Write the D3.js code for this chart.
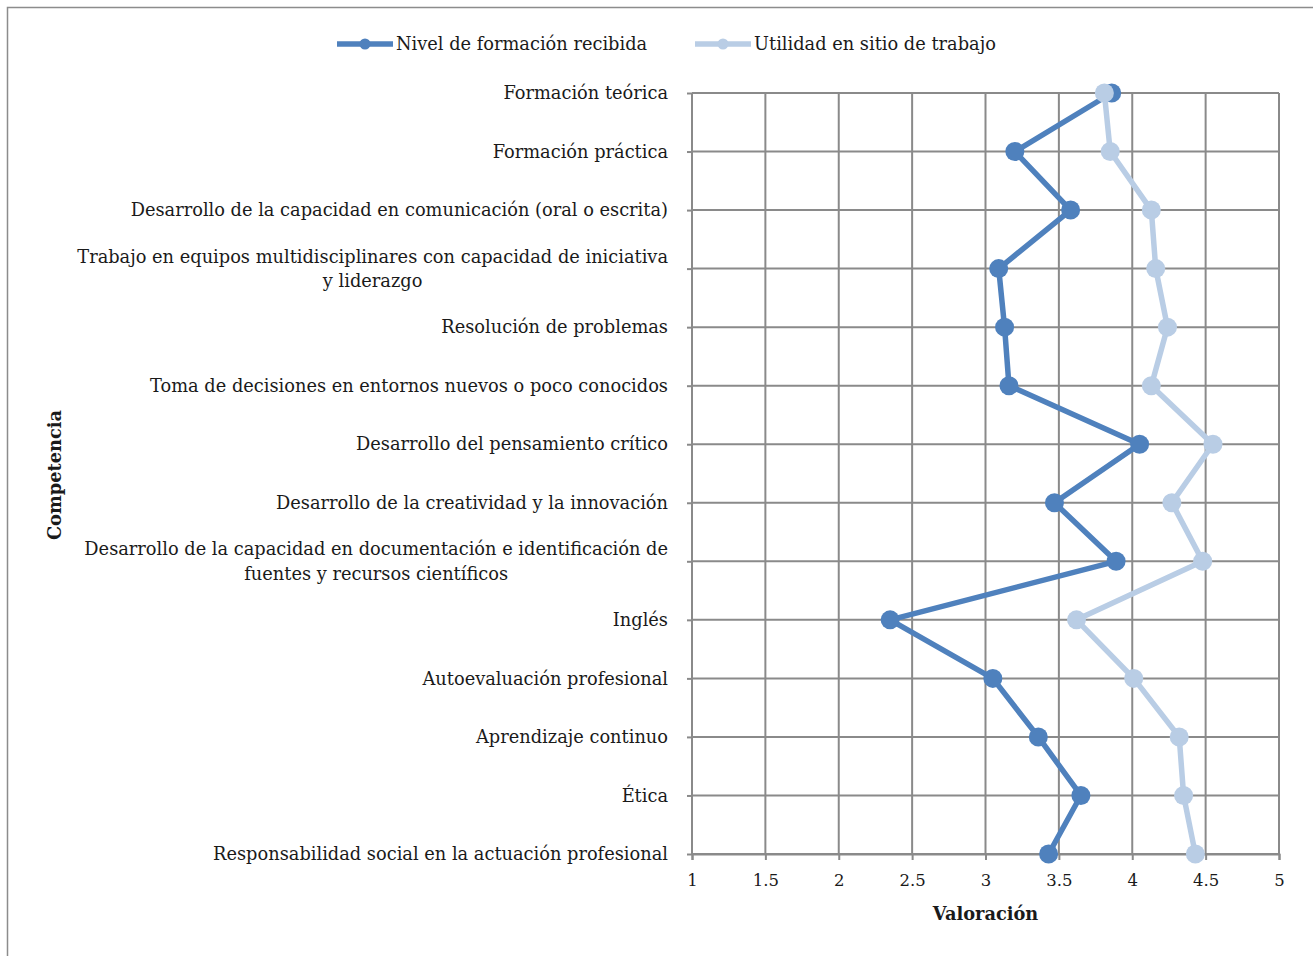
<!DOCTYPE html>
<html>
<head>
<meta charset="utf-8">
<script src="https://cdn.jsdelivr.net/npm/d3@7"></script>
<style>
    body { margin: 0; background: #fff; }
    text { font-family: "DejaVu Serif", "Liberation Serif", serif; fill: #1a1a1a; }
</style>
</head>
<body>
<script>
    // Data
    let competencias = [
        "Formación teórica",
        "Formación práctica",
        "Desarrollo de la capacidad en comunicación (oral o escrita)",
        "Trabajo en equipos multidisciplinares con capacidad de iniciativa\ny liderazgo",
        "Resolución de problemas",
        "Toma de decisiones en  entornos nuevos o poco conocidos",
        "Desarrollo del pensamiento crítico",
        "Desarrollo de la creatividad y la innovación",
        "Desarrollo de la capacidad en documentación e identificación de\nfuentes y recursos científicos",
        "Inglés",
        "Autoevaluación profesional",
        "Aprendizaje continuo",
        "Ética",
        "Responsabilidad social en la actuación profesional"
    ];
    let nivelFormacion = [3.86, 3.20, 3.58, 3.09, 3.13, 3.16, 4.05, 3.47, 3.89, 2.35, 3.05, 3.36, 3.65, 3.43];
    let utilidadTrabajo = [3.81, 3.85, 4.13, 4.16, 4.24, 4.13, 4.55, 4.27, 4.48, 3.62, 4.01, 4.32, 4.35, 4.43];
    let xTicks = [1, 1.5, 2, 2.5, 3, 3.5, 4, 4.5, 5];
    let seriesNames = ["Nivel de formación recibida", "Utilidad en sitio de trabajo"];
    let colors = ["#4f81bd", "#b9cde5"];

    let width = 1313, height = 956;
    let fs = 17.8;
    let svg = d3.select("body").append("svg")
        .attr("width", width)
        .attr("height", height);

    // outer frame
    svg.append("rect")
        .attr("x", 7.5).attr("y", 7.5)
        .attr("width", width + 10).attr("height", height + 10)
        .attr("fill", "none")
        .attr("stroke", "#8c8c8c")
        .attr("stroke-width", 1.5);

    let x = d3.scaleLinear().domain([1, 5]).range([692, 1279]);
    let y = d3.scalePoint().domain(competencias).range([93, 854]);

    // grid
    let grid = svg.append("g");
    grid.selectAll("line.v")
        .data(xTicks)
        .enter().append("line")
        .attr("x1", d => x(d)).attr("x2", d => x(d))
        .attr("y1", y.range()[0]).attr("y2", y.range()[1])
        .attr("stroke", "#8a8a8a").attr("stroke-width", 2);
    grid.selectAll("line.h")
        .data(competencias)
        .enter().append("line")
        .attr("x1", x(1)).attr("x2", x(5))
        .attr("y1", d => y(d)).attr("y2", d => y(d))
        .attr("stroke", "#8a8a8a").attr("stroke-width", 2);

    // x axis
    let xAxis = svg.append("g")
        .attr("transform", `translate(0, ${y.range()[1]})`)
        .call(d3.axisBottom(x).tickValues(xTicks).tickFormat(d3.format("")).tickSize(6).tickPadding(14));
    xAxis.select(".domain").attr("stroke", "#8a8a8a").attr("stroke-width", 2);
    xAxis.selectAll(".tick line").attr("stroke", "#8a8a8a").attr("stroke-width", 2);
    xAxis.selectAll(".tick text").attr("font-size", 16.5).attr("fill", "#1a1a1a")
        .style("font-family", "'DejaVu Serif', serif");

    // y axis
    let yAxis = svg.append("g")
        .attr("transform", `translate(${x(1)}, 0)`)
        .call(d3.axisLeft(y).tickSize(5).tickFormat(""));
    yAxis.select(".domain").remove();
    yAxis.selectAll(".tick line").attr("stroke", "#8a8a8a").attr("stroke-width", 2);

    // category labels (right aligned block, centered lines)
    let labelRight = 668;
    let labels = svg.append("g").selectAll("text")
        .data(competencias)
        .enter().append("text")
        .attr("font-size", fs);
    labels.each(function (d) {
        let t = d3.select(this);
        let lines = d.split("\n");
        let tsp = lines.map((l, i) => t.append("tspan").text(l));
        let w = d3.max(tsp, s => s.node().getComputedTextLength());
        let lh = 24.5;
        let y0 = y(d) - (lines.length - 1) * lh / 2;
        tsp.forEach((s, i) => {
            s.attr("x", labelRight - w / 2)
             .attr("y", y0 + i * lh)
             .attr("dy", "0.35em")
             .attr("text-anchor", "middle");
        });
    });

    // series
    let allSeries = [nivelFormacion, utilidadTrabajo];
    let line = d3.line()
        .x(d => x(d[0]))
        .y(d => y(d[1]));
    allSeries.forEach((vals, k) => {
        let pts = vals.map((v, i) => [v, competencias[i]]);
        let g = svg.append("g");
        g.append("path")
            .datum(pts)
            .attr("d", line)
            .attr("fill", "none")
            .attr("stroke", colors[k])
            .attr("stroke-width", 5.5)
            .attr("stroke-linejoin", "round");
        g.selectAll("circle")
            .data(pts)
            .enter().append("circle")
            .attr("cx", d => x(d[0]))
            .attr("cy", d => y(d[1]))
            .attr("r", 9.5)
            .attr("fill", colors[k]);
    });

    // legend
    let legendX = [337, 695];
    let legend = svg.append("g").selectAll("g")
        .data(seriesNames)
        .enter().append("g")
        .attr("transform", (d, i) => `translate(${legendX[i]}, 44)`);
    legend.append("line")
        .attr("x1", 0).attr("x2", 56)
        .attr("stroke", (d, i) => colors[i])
        .attr("stroke-width", 5.5);
    legend.append("circle")
        .attr("cx", 28).attr("r", 5.5)
        .attr("fill", (d, i) => colors[i]);
    legend.append("text")
        .attr("x", 59).attr("dy", "0.35em")
        .attr("font-size", fs)
        .text(d => d);

    // axis titles
    svg.append("text")
        .attr("x", x(3)).attr("y", 914)
        .attr("dy", "0.35em")
        .attr("text-anchor", "middle")
        .attr("font-size", fs)
        .attr("font-weight", "bold")
        .text("Valoración");
    svg.append("text")
        .attr("transform", `translate(55, 475) rotate(-90)`)
        .attr("dy", "0.35em")
        .attr("text-anchor", "middle")
        .attr("font-size", fs)
        .attr("font-weight", "bold")
        .text("Competencia");
</script>
</body>
</html>
